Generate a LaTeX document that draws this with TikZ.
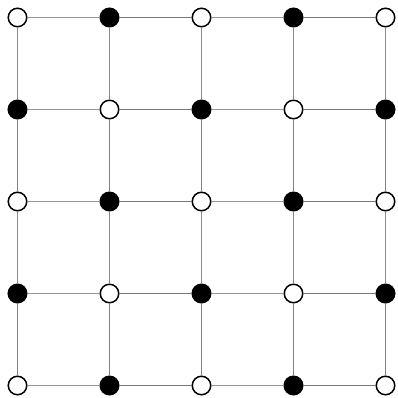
\documentclass[tikz,border=0pt]{standalone}
\tikzset{
  wnode/.style={circle,draw=black,fill=white,line width=1.5pt,minimum size=18.5pt,inner sep=0pt},
  bnode/.style={circle,draw=black,fill=black,line width=1.5pt,minimum size=18.5pt,inner sep=0pt}
}
\begin{document}
\begin{tikzpicture}[x=1pt,y=-1pt]
\useasboundingbox (0,0) rectangle (397,398);
\node[wnode] (n00) at (17.5,17.5) {};
\node[bnode] (n10) at (109.5,17.5) {};
\node[wnode] (n20) at (201.5,17.5) {};
\node[bnode] (n30) at (293.5,17.5) {};
\node[wnode] (n40) at (385.5,17.5) {};
\node[bnode] (n01) at (17.5,109.5) {};
\node[wnode] (n11) at (109.5,109.5) {};
\node[bnode] (n21) at (201.5,109.5) {};
\node[wnode] (n31) at (293.5,109.5) {};
\node[bnode] (n41) at (385.5,109.5) {};
\node[wnode] (n02) at (17.5,201.5) {};
\node[bnode] (n12) at (109.5,201.5) {};
\node[wnode] (n22) at (201.5,201.5) {};
\node[bnode] (n32) at (293.5,201.5) {};
\node[wnode] (n42) at (385.5,201.5) {};
\node[bnode] (n03) at (17.5,293.5) {};
\node[wnode] (n13) at (109.5,293.5) {};
\node[bnode] (n23) at (201.5,293.5) {};
\node[wnode] (n33) at (293.5,293.5) {};
\node[bnode] (n43) at (385.5,293.5) {};
\node[wnode] (n04) at (17.5,385.5) {};
\node[bnode] (n14) at (109.5,385.5) {};
\node[wnode] (n24) at (201.5,385.5) {};
\node[bnode] (n34) at (293.5,385.5) {};
\node[wnode] (n44) at (385.5,385.5) {};
% horizontal
\draw[red!60!white, line width=1.3pt] (n00) -- (n10);
\draw[blue!60!white, line width=1.3pt] (n10) -- (n20);
\draw[red!60!white, line width=1.3pt] (n20) -- (n30);
\draw[blue!60!white, line width=1.3pt] (n30) -- (n40);
\draw[red!60!white, line width=1.3pt] (n01) -- (n11);
\draw[blue!60!white, line width=1.3pt] (n11) -- (n21);
\draw[red!60!white, line width=1.3pt] (n21) -- (n31);
\draw[blue!60!white, line width=1.3pt] (n31) -- (n41);
\draw[red!60!white, line width=1.3pt] (n02) -- (n12);
\draw[blue!60!white, line width=1.3pt] (n12) -- (n22);
\draw[red!60!white, line width=1.3pt] (n22) -- (n32);
\draw[blue!60!white, line width=1.3pt] (n32) -- (n42);
\draw[red!60!white, line width=1.3pt] (n03) -- (n13);
\draw[blue!60!white, line width=1.3pt] (n13) -- (n23);
\draw[red!60!white, line width=1.3pt] (n23) -- (n33);
\draw[blue!60!white, line width=1.3pt] (n33) -- (n43);
\draw[red!60!white, line width=1.3pt] (n04) -- (n14);
\draw[blue!60!white, line width=1.3pt] (n14) -- (n24);
\draw[red!60!white, line width=1.3pt] (n24) -- (n34);
\draw[blue!60!white, line width=1.3pt] (n34) -- (n44);
% vertical
\draw[cyan!92!white, line width=1pt] (n00) -- (n01);
\draw[green!87!black, line width=1pt] (n01) -- (n02);
\draw[cyan!92!white, line width=1pt] (n02) -- (n03);
\draw[green!87!black, line width=1pt] (n03) -- (n04);
\draw[cyan!92!white, line width=1pt] (n10) -- (n11);
\draw[green!87!black, line width=1pt] (n11) -- (n12);
\draw[cyan!92!white, line width=1pt] (n12) -- (n13);
\draw[green!87!black, line width=1pt] (n13) -- (n14);
\draw[cyan!92!white, line width=1pt] (n20) -- (n21);
\draw[green!87!black, line width=1pt] (n21) -- (n22);
\draw[cyan!92!white, line width=1pt] (n22) -- (n23);
\draw[green!87!black, line width=1pt] (n23) -- (n24);
\draw[cyan!92!white, line width=1pt] (n30) -- (n31);
\draw[green!87!black, line width=1pt] (n31) -- (n32);
\draw[cyan!92!white, line width=1pt] (n32) -- (n33);
\draw[green!87!black, line width=1pt] (n33) -- (n34);
\draw[cyan!92!white, line width=1pt] (n40) -- (n41);
\draw[green!87!black, line width=1pt] (n41) -- (n42);
\draw[cyan!92!white, line width=1pt] (n42) -- (n43);
\draw[green!87!black, line width=1pt] (n43) -- (n44);
\end{tikzpicture}
\end{document}
